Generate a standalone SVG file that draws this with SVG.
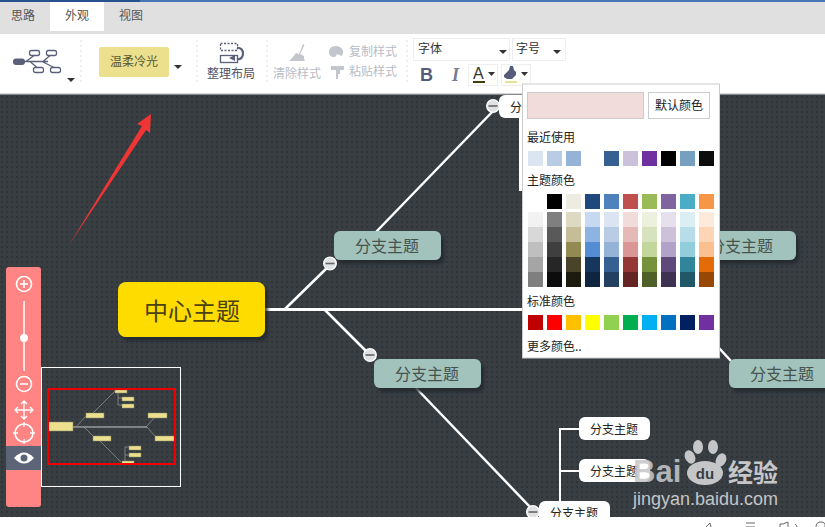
<svg xmlns="http://www.w3.org/2000/svg" width="825" height="527" viewBox="0 0 825 527">
<style>
text{font-family:"Noto Sans CJK SC","Liberation Sans",sans-serif}
.dim{font-size:12px;fill:#b8bcc4}
.br{fill:#a2c3bc;filter:url(#sh)}
.brt{font-size:16px;fill:#47534f;text-anchor:middle}
.wn{fill:#fff}
.wt{font-size:12px;fill:#222;text-anchor:middle}
.ln{stroke:#fff;fill:none}
.pk{font-size:12px;fill:#222}
.mm{fill:#ece08f;stroke:#8a8a6a;stroke-width:.5}
.ml{stroke:#9a9a9a;fill:none}
.sep{stroke:#ddd;stroke-dasharray:2 3;fill:none}
.ic{stroke:#5a607a;fill:none;stroke-width:1.3}
.pi{stroke:#fff;fill:none;stroke-width:1.6}
</style>
<defs>
<pattern id="dots" width="5" height="5" patternUnits="userSpaceOnUse"><rect width="5" height="5" fill="#393e43"/><rect x="1" y="1" width="2" height="2" fill="#2f3439"/></pattern>
<filter id="sh" x="-10%" y="-15%" width="125%" height="140%"><feDropShadow dx="3" dy="4" stdDeviation="1.5" flood-color="#23272b" flood-opacity=".8"/></filter>
<g id="minus"><circle r="6.300" fill="#dfe1e2" stroke="#fff" stroke-width="1.300"/><rect x="-4.500" y="-.8" width="9" height="1.600" fill="#666"/></g>
</defs>

<rect width="825" height="527" fill="url(#dots)"/>

<g id="toolbar">
<rect width="825" height="94" fill="#fff"/>
<rect y="2" width="825" height="32" fill="#e0e0e0"/>
<rect width="140" height="2" fill="#27508f"/>
<rect x="140" width="685" height="2" fill="#4a76b8"/>
<rect x="50" y="2" width="54" height="29" fill="#fff"/>
<rect y="93" width="825" height="1.500" fill="#d6d6d6"/>
<text x="11" y="20" font-size="12" fill="#555">思路</text>
<text x="65" y="20" font-size="12" fill="#555">外观</text>
<text x="119" y="20" font-size="12" fill="#555">视图</text>
<path class="sep" d="M81 40V83M197 40V83M267 40V83M407 40V83"/>
<g class="ic">
<rect x="29.500" y="50.500" width="10" height="5" rx="2"/><rect x="46.500" y="50.500" width="10" height="5" rx="2"/><rect x="33.500" y="67.500" width="10" height="5" rx="2"/><rect x="50.500" y="67.500" width="10" height="5" rx="2"/>
<path d="M20 61.500H48M26 61.500L34 55.500M43 61.500L50 55.500M30 61.500L37 67.500M42 61.500L54 67.500"/>
</g>
<rect x="13" y="58.500" width="12" height="6.500" rx="3" fill="#5a607a"/>
<path d="M67 78h8l-4 4zM174 65h8l-4 4z" fill="#333"/>
<rect x="99" y="47" width="70" height="30" rx="2" fill="#ece08f"/>
<text x="134" y="66" font-size="12" fill="#555a30" text-anchor="middle">温柔冷光</text>
<g class="ic">
<rect x="220.500" y="43.500" width="17" height="7" stroke-dasharray="2 1.500"/>
<rect x="220.500" y="55.500" width="17" height="7"/>
<path d="M237 47.500q6 .5 6 6t-6 6" stroke-width="2.200"/>
</g>
<path d="M229 58l6-3v6z" fill="#5a607a"/>
<text x="231" y="78" font-size="12" fill="#4d5266" text-anchor="middle">整理布局</text>
<path d="M303 44l1.500 1-4.500 9 4 2v3l1 2h-16l4-4 3-4 3 1z" fill="#c3c6cc"/>
<text x="273" y="78" class="dim">清除样式</text>
<path d="M336 46c-5 0-7 3-7 6 0 3 2 5 5 5 2 0 2-2 3-3l5 2c1-3 2-5 0-7-1-2-4-3-6-3z" fill="#c3c6cc"/>
<text x="349" y="56" class="dim">复制样式</text>
<path d="M331 66h13v4h-13zM336 70h4v4h-2v5h-2z" fill="#c3c6cc"/>
<text x="349" y="76" class="dim">粘贴样式</text>
<rect x="413.500" y="38.500" width="96" height="22" fill="#fff" stroke="#eee"/>
<rect x="512.500" y="38.500" width="53" height="22" fill="#fff" stroke="#eee"/>
<text x="418" y="53" font-size="12" fill="#333">字体</text>
<text x="516" y="53" font-size="12" fill="#333">字号</text>
<path d="M499 50h8l-4 4zM553 50h8l-4 4z" fill="#333"/>
<text x="420" y="81" font-size="18" font-weight="bold" fill="#555b78" style="font-family:'Liberation Sans',sans-serif">B</text>
<text x="452" y="81" font-size="18" font-style="italic" font-weight="bold" fill="#777c90" style="font-family:'Liberation Serif',serif">I</text>
<rect x="468.500" y="64.500" width="29" height="21" fill="#fff" stroke="#eee"/>
<rect x="501.500" y="64.500" width="29" height="21" fill="#fff" stroke="#eee"/>
<text x="473" y="79" font-size="16" fill="#333" style="font-family:'Liberation Sans',sans-serif">A</text>
<rect x="473" y="81" width="12" height="2" fill="#4a3a10"/>
<path d="M488 72h7l-3.500 4zM521 72h7l-3.500 4z" fill="#333"/>
<path d="M504 75l5-5 1-4h3l1 4 2 2v3l-4 4h-5l-3-2z" fill="#555b78"/>
<rect x="505" y="81" width="12" height="2" fill="#ece08f"/>
</g>

<g id="connectors">
<path class="ln" stroke-width="3" d="M265 309.500H525"/>
<path class="ln" stroke-width="2.500" d="M285 309L329 266M376 232L496 108"/>
<path class="ln" stroke-width="2.500" d="M325 310L368 353M416 388L533 510"/>
<path class="ln" stroke-width="2.500" d="M719 348L731 361"/>
<path class="ln" stroke-width="2" d="M560 429H580M560 471H580M560 428V502"/>
</g>

<g id="n-center"><rect x="118" y="282" width="147" height="55" rx="8" fill="#ffdc00" filter="url(#sh)"/><text x="192" y="320" font-size="24" fill="#4a4210" text-anchor="middle">中心主题</text></g>
<g id="n-b1"><rect x="334" y="231" width="107" height="29" rx="6" class="br"/><text x="387" y="252" class="brt">分支主题</text></g>
<use href="#minus" x="330" y="263.500"/>
<g id="n-b2"><rect x="374" y="359" width="107" height="29" rx="6" class="br"/><text x="427" y="380" class="brt">分支主题</text></g>
<use href="#minus" x="370" y="355"/>
<g id="n-b3"><rect x="690" y="231" width="106" height="29" rx="6" class="br"/><text x="741" y="252" class="brt">分支主题</text></g>
<g id="n-b4"><rect x="729" y="359" width="106" height="29" rx="6" class="br"/><text x="782" y="380" class="brt">分支主题</text></g>
<g id="n-top"><rect x="499" y="95" width="60" height="23" rx="6" class="wn"/><text x="510" y="112" font-size="12" fill="#222">分支主题</text></g>
<use href="#minus" x="493" y="106"/>
<rect x="519" y="118" width="3" height="73" fill="#fff"/>
<g id="n-w1"><rect x="579" y="417" width="71" height="23" rx="6" class="wn"/><text x="614" y="434" class="wt">分支主题</text></g>
<g id="n-w2"><rect x="579" y="459" width="71" height="23" rx="6" class="wn"/><text x="614" y="476" class="wt">分支主题</text></g>
<g id="n-w3"><rect x="539" y="501" width="71" height="23" rx="6" class="wn"/><text x="574" y="518" class="wt">分支主题</text></g>
<use href="#minus" x="533" y="512"/>

<g id="palette">
<rect x="522.500" y="84" width="197" height="274" fill="#fff" stroke="#ccc"/>
<rect x="527.500" y="92.500" width="116" height="26" fill="#f2dbdb" stroke="#ccc"/>
<rect x="648.500" y="92.500" width="61" height="26" fill="#fff" stroke="#ccc"/>
<text x="679" y="110" class="pk" text-anchor="middle">默认颜色</text>
<text x="527" y="142" class="pk">最近使用</text>
<text x="527" y="185" class="pk">主题颜色</text>
<text x="527" y="306" class="pk">标准颜色</text>
<text x="527" y="351" class="pk">更多颜色..</text>
<g id="swatches-recent">
<rect x="528" y="151" width="15" height="15" fill="#dbe5f1"/><rect x="547" y="151" width="15" height="15" fill="#b8cce4"/><rect x="566" y="151" width="15" height="15" fill="#95b3d7"/><rect x="604" y="151" width="15" height="15" fill="#366092"/><rect x="623" y="151" width="15" height="15" fill="#ccc1da"/><rect x="642" y="151" width="15" height="15" fill="#7030a0"/><rect x="661" y="151" width="15" height="15" fill="#000"/><rect x="680" y="151" width="15" height="15" fill="#76a0c0"/><rect x="699" y="151" width="15" height="15" fill="#0d0d0d"/>
</g>
<g id="swatches-theme">
<rect x="547" y="194" width="15" height="15" fill="#000"/><rect x="566" y="194" width="15" height="15" fill="#eeece1"/><rect x="585" y="194" width="15" height="15" fill="#1f497d"/><rect x="604" y="194" width="15" height="15" fill="#4f81bd"/><rect x="623" y="194" width="15" height="15" fill="#c0504d"/><rect x="642" y="194" width="15" height="15" fill="#9bbb59"/><rect x="661" y="194" width="15" height="15" fill="#8064a2"/><rect x="680" y="194" width="15" height="15" fill="#4bacc6"/><rect x="699" y="194" width="15" height="15" fill="#f79646"/>
<rect x="528" y="212" width="15" height="15" fill="#f2f2f2"/><rect x="547" y="212" width="15" height="15" fill="#7f7f7f"/><rect x="566" y="212" width="15" height="15" fill="#ddd9c3"/><rect x="585" y="212" width="15" height="15" fill="#c6d9f0"/><rect x="604" y="212" width="15" height="15" fill="#dbe5f1"/><rect x="623" y="212" width="15" height="15" fill="#f2dcdb"/><rect x="642" y="212" width="15" height="15" fill="#ebf1dd"/><rect x="661" y="212" width="15" height="15" fill="#e5e0ec"/><rect x="680" y="212" width="15" height="15" fill="#dbeef3"/><rect x="699" y="212" width="15" height="15" fill="#fdeada"/>
<rect x="528" y="227" width="15" height="15" fill="#d8d8d8"/><rect x="547" y="227" width="15" height="15" fill="#595959"/><rect x="566" y="227" width="15" height="15" fill="#c4bd97"/><rect x="585" y="227" width="15" height="15" fill="#8db3e2"/><rect x="604" y="227" width="15" height="15" fill="#b8cce4"/><rect x="623" y="227" width="15" height="15" fill="#e5b9b7"/><rect x="642" y="227" width="15" height="15" fill="#d7e3bc"/><rect x="661" y="227" width="15" height="15" fill="#ccc1d9"/><rect x="680" y="227" width="15" height="15" fill="#b7dde8"/><rect x="699" y="227" width="15" height="15" fill="#fbd5b5"/>
<rect x="528" y="242" width="15" height="15" fill="#bfbfbf"/><rect x="547" y="242" width="15" height="15" fill="#3f3f3f"/><rect x="566" y="242" width="15" height="15" fill="#938953"/><rect x="585" y="242" width="15" height="15" fill="#548dd4"/><rect x="604" y="242" width="15" height="15" fill="#95b3d7"/><rect x="623" y="242" width="15" height="15" fill="#d99694"/><rect x="642" y="242" width="15" height="15" fill="#c3d69b"/><rect x="661" y="242" width="15" height="15" fill="#b2a2c7"/><rect x="680" y="242" width="15" height="15" fill="#92cddc"/><rect x="699" y="242" width="15" height="15" fill="#fac08f"/>
<rect x="528" y="257" width="15" height="15" fill="#a5a5a5"/><rect x="547" y="257" width="15" height="15" fill="#262626"/><rect x="566" y="257" width="15" height="15" fill="#494429"/><rect x="585" y="257" width="15" height="15" fill="#17365d"/><rect x="604" y="257" width="15" height="15" fill="#366092"/><rect x="623" y="257" width="15" height="15" fill="#953734"/><rect x="642" y="257" width="15" height="15" fill="#76923c"/><rect x="661" y="257" width="15" height="15" fill="#5f497a"/><rect x="680" y="257" width="15" height="15" fill="#31859b"/><rect x="699" y="257" width="15" height="15" fill="#e36c09"/>
<rect x="528" y="272" width="15" height="15" fill="#7f7f7f"/><rect x="547" y="272" width="15" height="15" fill="#0c0c0c"/><rect x="566" y="272" width="15" height="15" fill="#1d1b10"/><rect x="585" y="272" width="15" height="15" fill="#0f243e"/><rect x="604" y="272" width="15" height="15" fill="#244061"/><rect x="623" y="272" width="15" height="15" fill="#632423"/><rect x="642" y="272" width="15" height="15" fill="#4f6128"/><rect x="661" y="272" width="15" height="15" fill="#3f3151"/><rect x="680" y="272" width="15" height="15" fill="#205867"/><rect x="699" y="272" width="15" height="15" fill="#974806"/>
</g>
<g id="swatches-standard">
<rect x="528" y="315" width="15" height="15" fill="#c00000"/><rect x="547" y="315" width="15" height="15" fill="#f00"/><rect x="566" y="315" width="15" height="15" fill="#ffc000"/><rect x="585" y="315" width="15" height="15" fill="#ff0"/><rect x="604" y="315" width="15" height="15" fill="#92d050"/><rect x="623" y="315" width="15" height="15" fill="#00b050"/><rect x="642" y="315" width="15" height="15" fill="#00b0f0"/><rect x="661" y="315" width="15" height="15" fill="#0070c0"/><rect x="680" y="315" width="15" height="15" fill="#002060"/><rect x="699" y="315" width="15" height="15" fill="#7030a0"/>
</g>
</g>

<g id="minimap">
<rect x="41.500" y="367.500" width="139" height="119" fill="none" stroke="#fff"/>
<path class="ml" stroke-width=".7" d="M76 427L86 416M93 413L115 391M84 427L93 436M100 441L121 462M118 391V405M118 398H122M118 405H122M125 447V461M125 447H129M125 455H129M146 427L156 416M147 427L155 436"/>
<path class="ml" stroke-width="1.500" d="M73 427H147"/>
<rect class="mm" x="48" y="422" width="25" height="9"/>
<rect class="mm" x="86" y="413" width="18" height="5"/>
<rect class="mm" x="93" y="436" width="18" height="5"/>
<rect class="mm" x="148" y="413" width="19" height="5"/>
<rect class="mm" x="155" y="436" width="19" height="5"/>
<rect class="mm" x="115" y="390" width="12" height="3"/>
<rect class="mm" x="122" y="397" width="12" height="4"/>
<rect class="mm" x="122" y="404" width="12" height="4"/>
<rect class="mm" x="129" y="446" width="12" height="4"/>
<rect class="mm" x="129" y="453" width="12" height="4"/>
<rect class="mm" x="122" y="461" width="12" height="3"/>
<g fill="#ee0000"><rect x="47" y="388" width="128" height="2"/><rect x="47" y="463" width="128" height="2"/><rect x="47" y="388" width="2" height="77"/><rect x="174" y="388" width="2" height="77"/></g>
</g>

<g id="zoom-panel">
<rect x="6" y="267" width="35" height="240" rx="3" fill="#ff8585"/>
<rect x="6" y="446" width="35" height="24" fill="#5c6478"/>
<g class="pi">
<circle cx="24" cy="284" r="7.500"/><path d="M20 284h8M24 280v8"/>
<path d="M24 301V371" stroke-width="1.500"/>
<circle cx="24" cy="384" r="7.500"/><path d="M20 384h8"/>
<path d="M24 401V419M15 410H33M21 404l3-3 3 3M21 416l3 3 3-3M18 407l-3 3 3 3M30 407l3 3-3 3" stroke-width="1.300"/>
<circle cx="24" cy="433" r="9"/><path d="M24 422v5M24 439v5M13 433h5M30 433h5" stroke-width="1.300"/>
</g>
<circle cx="24" cy="338" r="4" fill="#fff"/>
<path d="M14 458q10-11 20 0q-10 11-20 0z" fill="#fff"/>
<circle cx="24" cy="458" r="3.500" fill="#5c6478"/>
</g>

<g id="arrow"><path d="M69 245L142 126 137 124 151 114 150 133 146 130z" fill="#f03535"/></g>

<g id="watermark" fill="#c4c6c8">
<text x="633" y="482" font-size="31" font-weight="bold" style="font-family:'Liberation Sans',sans-serif" fill-opacity=".88">Bai</text>
<ellipse cx="705" cy="473" rx="18" ry="12"/>
<text x="705" y="479" font-size="15" font-weight="bold" text-anchor="middle" fill="#393e43" style="font-family:'Liberation Sans',sans-serif">du</text>
<ellipse cx="690" cy="457" rx="5" ry="7" transform="rotate(-25 690 457)"/><ellipse cx="698" cy="447" rx="5" ry="7"/><ellipse cx="713" cy="447" rx="5" ry="7"/><ellipse cx="721" cy="460" rx="5" ry="7" transform="rotate(25 721 460)"/>
<text x="728" y="482" font-size="25" font-weight="bold">经验</text>
<text x="633" y="505" font-size="18" style="font-family:'Liberation Sans',sans-serif">jingyan.baidu.com</text>
</g>

<g id="status">
<rect y="517" width="825" height="10" fill="#fff"/>
<g stroke="#666" fill="none" stroke-width="1"><path d="M706 527L710 523 711 527M746 523h9M746 527h9M780 527V524h3l5-2v5M795 524q2 1 2 3M816 527q0-5 5-5t4 5"/></g>
</g>
</svg>
